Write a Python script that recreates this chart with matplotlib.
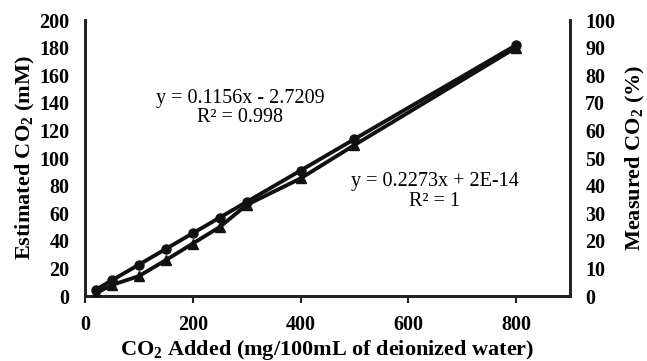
import matplotlib
matplotlib.use("Agg")
import matplotlib.pyplot as plt

plt.rcParams['font.family'] = ['Liberation Serif', 'DejaVu Serif']
plt.rcParams['mathtext.fontset'] = 'custom'
plt.rcParams['mathtext.rm'] = 'Liberation Serif:bold'
plt.rcParams['mathtext.it'] = 'Liberation Serif:bold'
plt.rcParams['mathtext.bf'] = 'Liberation Serif:bold'

co2_added = [20, 50, 100, 150, 200, 250, 300, 400, 500, 800]
estimated_mM = [4.5, 11.4, 22.7, 34.1, 45.5, 56.8, 68.2, 90.9, 113.7, 181.8]
measured_pct = [1.0, 4.0, 7.2, 13.0, 19.0, 25.0, 33.0, 42.6, 54.7, 90.0]

x_ticks = [0, 200, 400, 600, 800]
left_ticks = list(range(0, 201, 20))
right_ticks = list(range(0, 101, 10))

fig = plt.figure(figsize=(6.47, 3.61), dpi=100)
ax = fig.add_axes([85/647, 1-296/361, (570-85)/647, (296-20)/361])
ax2 = ax.twinx()

spine_color = '#222222'
ax.plot(co2_added, estimated_mM, color='#111111', lw=2.8, marker='o', ms=6.5, zorder=3)
ax2.plot(co2_added, measured_pct, color='#111111', lw=2.8, marker='^', ms=6.5, zorder=3)

ax.set_xlim(0, 900)
ax.set_ylim(0, 200)
ax2.set_ylim(0, 100)
ax.set_xticks(x_ticks)
ax.set_yticks(left_ticks)
ax2.set_yticks(right_ticks)

for a in (ax, ax2):
    a.spines['top'].set_visible(False)
    for s in ('left', 'right', 'bottom'):
        a.spines[s].set_linewidth(2)
        a.spines[s].set_color(spine_color)

ax.tick_params(axis='x', length=5, width=1.5, color=spine_color, pad=9, labelsize=14.5)
ax.tick_params(axis='y', length=0, pad=11, labelsize=14.5)
ax2.tick_params(axis='y', length=0, pad=11, labelsize=14.5)
for lab in ax.get_xticklabels() + ax.get_yticklabels() + ax2.get_yticklabels():
    lab.set_fontweight('bold')

ax.set_xlabel('CO$_2$ Added (mg/100mL of deionized water)', fontsize=16, fontweight='bold', labelpad=2)
ax.set_ylabel('Estimated CO$_2$ (mM)', fontsize=16, fontweight='bold', labelpad=2)
ax2.set_ylabel('Measured CO$_2$ (%)', fontsize=16, fontweight='bold', labelpad=6)

fig.text(240/647, 1-98/361, 'y = 0.1156x - 2.7209', ha='center', va='center', fontsize=14.5)
fig.text(240/647, 1-118/361, 'R² = 0.998', ha='center', va='center', fontsize=14.5)
fig.text(435/647, 1-182/361, 'y = 0.2273x + 2E-14', ha='center', va='center', fontsize=14.5)
fig.text(435/647, 1-202/361, 'R² = 1', ha='center', va='center', fontsize=14.5)

fig.savefig('out.png', dpi=100)
